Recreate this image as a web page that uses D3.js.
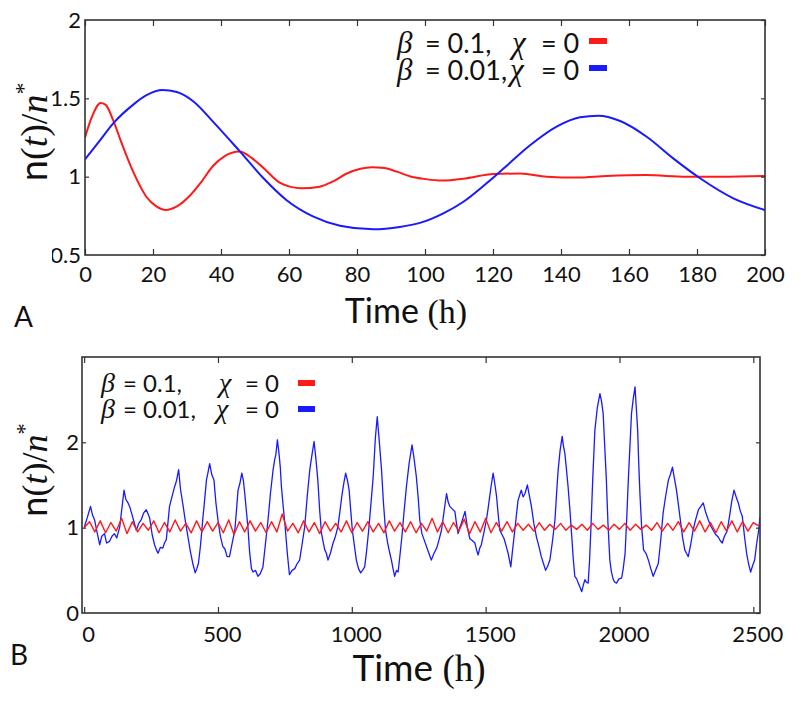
<!DOCTYPE html>
<html><head><meta charset="utf-8">
<script src="https://cdn.jsdelivr.net/npm/d3@7"></script>
<style>body{margin:0;background:#fff}svg{display:block}</style>
</head><body>
<svg id="c" width="800" height="703"></svg>
<script>
// ---------- DATA ----------
// Panel A (deterministic), [time h, n/n*]
const redA = [[0,1.25],[2,1.38],[4.6,1.47],[6,1.46],[8.3,1.36],[10.5,1.23],[13.2,1.08],[15.5,0.97],[18.1,0.87],[21,0.81],[23.8,0.787],[27,0.81],[30.9,0.88],[34,0.96],[37.7,1.07],[41,1.13],[45.4,1.16],[49,1.12],[52.5,1.055],[57.4,0.96],[60.5,0.935],[63.7,0.926],[69,0.936],[73,0.97],[77,1.02],[81,1.05],[84.3,1.06],[88,1.055],[91.7,1.032],[96,1.0],[100,0.985],[104.9,0.975],[112.3,0.99],[120,1.017],[128,1.02],[135.8,1.0],[144.6,0.994],[153.4,1.004],[165,1.01],[177,1.0],[187,1.0],[200,1.005]];
const blueA = [[0,1.11],[4,1.22],[8.3,1.34],[14.2,1.46],[18.1,1.52],[22.8,1.553],[27,1.54],[31.9,1.48],[37.7,1.35],[45.6,1.16],[52.5,0.99],[59.3,0.85],[67.2,0.745],[75,0.687],[84.8,0.664],[92.6,0.679],[98.5,0.705],[105.4,0.766],[111.3,0.84],[118.1,0.958],[123,1.05],[130.9,1.2],[138.7,1.319],[145.6,1.379],[151,1.389],[157.4,1.355],[165.2,1.255],[173,1.117],[180.9,0.99],[190.7,0.862],[200,0.787]];
const ticksAx = [0,20,40,60,80,100,120,140,160,180,200];
const ticksAy = [0.5,1,1.5,2];

// Panel B (stochastic)
const blueB = [[1,1.01],[12,1.12],[24,1.25],[31,1.15],[39,1.09],[48,0.95],[58,0.80],[66,0.90],[76,0.93],[84,0.82],[95,0.84],[104,0.90],[113,0.93],[122,0.88],[133,1.01],[149,1.44],[156,1.33],[164,1.29],[171,1.24],[179,1.15],[187,1.06],[195,0.97],[204,1.05],[213,1.09],[222,1.17],[232,1.21],[239,1.16],[245,1.11],[254,0.92],[263,0.80],[270,0.74],[276,0.70],[285,0.77],[294,0.76],[300,0.82],[307,0.86],[319,1.25],[328,1.36],[338,1.48],[345,1.55],[353,1.68],[360,1.45],[369,1.27],[378,1.08],[388,0.89],[397,0.72],[406,0.58],[415,0.47],[421,0.52],[427,0.58],[435,0.80],[443,1.09],[450,1.32],[457,1.56],[463,1.65],[469,1.75],[477,1.62],[485,1.56],[492,1.30],[500,1.09],[509,0.90],[518,0.78],[526,0.75],[534,0.66],[543,0.66],[552,0.80],[563,0.97],[569,1.20],[575,1.44],[582,1.52],[589,1.64],[595,1.55],[600,1.40],[606,1.20],[612,1.00],[618,0.72],[625,0.52],[631,0.48],[640,0.50],[649,0.43],[658,0.46],[668,0.54],[677,0.80],[687,1.09],[696,1.40],[706,1.68],[712,1.80],[716,1.85],[722,2.03],[728,1.87],[733,1.70],[737,1.48],[744,1.24],[751,1.01],[759,0.70],[767,0.45],[777,0.50],[787,0.52],[796,0.58],[805,0.62],[814,0.80],[824,1.01],[833,1.35],[843,1.68],[851,1.85],[859,2.01],[866,1.80],[873,1.56],[880,1.20],[887,0.93],[893,0.83],[899,0.74],[905,0.70],[911,0.62],[920,0.70],[930,0.82],[939,0.90],[948,1.01],[956,1.20],[964,1.40],[970,1.52],[977,1.64],[984,1.55],[990,1.44],[996,1.20],[1002,0.97],[1010,0.78],[1017,0.62],[1025,0.52],[1033,0.47],[1040,0.50],[1048,0.54],[1055,0.72],[1063,0.97],[1072,1.30],[1080,1.60],[1088,2.05],[1095,2.30],[1103,2.00],[1111,1.68],[1118,1.30],[1126,0.97],[1134,0.82],[1142,0.70],[1148,0.62],[1154,0.52],[1160,0.43],[1167,0.50],[1173,0.48],[1180,0.68],[1187,0.89],[1195,1.18],[1204,1.48],[1214,1.75],[1225,1.97],[1233,1.80],[1241,1.60],[1248,1.35],[1254,1.09],[1262,0.93],[1270,0.86],[1279,0.78],[1288,0.70],[1297,0.62],[1307,0.70],[1317,0.76],[1326,0.86],[1335,0.97],[1345,1.20],[1354,1.40],[1360,1.30],[1366,1.25],[1375,1.22],[1385,1.19],[1391,1.05],[1397,0.93],[1403,1.00],[1409,1.05],[1416,1.12],[1423,1.19],[1432,1.00],[1441,0.87],[1450,0.85],[1460,0.82],[1466,0.74],[1472,0.68],[1478,0.76],[1484,0.80],[1494,0.95],[1503,1.09],[1509,1.22],[1515,1.36],[1521,1.50],[1528,1.64],[1535,1.50],[1541,1.36],[1547,1.15],[1553,0.97],[1561,0.92],[1569,0.87],[1577,0.78],[1584,0.70],[1589,0.62],[1594,0.54],[1601,0.75],[1609,0.97],[1615,1.15],[1621,1.32],[1627,1.38],[1633,1.44],[1640,1.36],[1647,1.40],[1656,1.50],[1663,1.38],[1671,1.25],[1680,1.05],[1690,0.89],[1699,0.78],[1708,0.66],[1716,0.58],[1724,0.50],[1732,0.55],[1740,0.62],[1750,0.85],[1759,1.09],[1765,1.40],[1771,1.68],[1778,1.90],[1786,2.07],[1791,1.95],[1796,1.87],[1802,1.68],[1808,1.48],[1815,1.20],[1821,0.93],[1827,0.65],[1833,0.43],[1840,0.40],[1846,0.35],[1853,0.30],[1859,0.25],[1865,0.33],[1871,0.39],[1877,0.36],[1883,0.35],[1888,0.60],[1893,0.97],[1900,1.56],[1908,2.14],[1917,2.40],[1927,2.57],[1933,2.48],[1939,2.34],[1945,1.95],[1951,1.56],[1957,1.05],[1964,0.62],[1970,0.48],[1977,0.39],[1983,0.36],[1989,0.35],[1998,0.40],[2008,0.41],[2014,0.52],[2021,0.70],[2027,1.10],[2033,1.56],[2039,1.95],[2045,2.34],[2051,2.50],[2058,2.65],[2063,2.40],[2068,2.14],[2072,1.75],[2077,1.36],[2083,1.00],[2090,0.74],[2099,0.70],[2108,0.62],[2117,0.52],[2126,0.43],[2135,0.50],[2145,0.58],[2154,0.85],[2163,1.17],[2173,1.38],[2183,1.56],[2190,1.62],[2198,1.71],[2205,1.58],[2213,1.44],[2221,1.25],[2229,1.05],[2236,0.88],[2244,0.74],[2250,0.70],[2257,0.66],[2266,0.80],[2275,0.97],[2285,1.10],[2295,1.21],[2304,1.25],[2313,1.29],[2322,1.18],[2332,1.09],[2341,1.02],[2350,0.97],[2359,0.92],[2369,0.89],[2376,0.85],[2384,0.82],[2392,0.90],[2401,0.95],[2407,1.05],[2413,1.17],[2420,1.32],[2428,1.44],[2436,1.36],[2444,1.29],[2451,1.20],[2459,1.13],[2467,0.90],[2475,0.70],[2482,0.58],[2490,0.48],[2497,0.55],[2505,0.62],[2512,0.80],[2520,0.97],[2525,1.13]];
const redBStep = 20; // sampling interval (h) of the red series below
const redB = [1.00,1.07,0.95,1.08,0.94,1.06,0.96,1.11,0.93,1.07,0.95,1.05,0.97,1.08,0.94,1.06,0.95,1.09,0.96,1.05,
 0.94,1.08,0.95,1.07,0.96,1.06,0.94,1.09,0.92,1.07,0.95,1.08,0.96,1.06,0.94,1.07,0.95,1.16,0.96,1.05,
 0.94,1.08,0.95,1.06,0.93,1.07,0.96,1.05,0.95,1.08,0.94,1.06,0.96,1.07,0.95,1.05,0.94,1.08,0.96,1.06,
 0.95,1.07,0.94,1.05,0.96,1.11,0.95,1.07,0.94,1.06,0.96,1.10,0.93,1.07,0.95,1.11,0.94,1.06,0.96,1.07,
 0.95,1.05,0.97,1.04,0.96,1.06,0.97,1.04,0.98,1.05,0.97,1.03,0.98,1.04,0.97,1.05,0.98,1.03,0.97,1.04,
 0.98,1.05,0.97,1.04,0.98,1.03,0.97,1.06,0.96,1.05,0.97,1.07,0.95,1.06,0.96,1.08,0.95,1.06,0.94,1.07,
 0.96,1.08,0.95,1.07,0.96,1.06,1.02];
const ticksBx = [0,500,1000,1500,2000,2500];
const ticksBy = [0,1,2];

// ---------- DRAW ----------
const svg = d3.select('#c');
const SANS = 'Lato, "Open Sans", sans-serif';
const SERIF = '"Liberation Serif", "DejaVu Serif", serif';
const AX = '#333';
const RED = '#ff1a1a', BLUE = '#1a1aff';

const defs = svg.append('defs');
// clip for the partially hidden "0.5" tick label (local coords of the tick)
defs.append('clipPath').attr('id','clipA05')
  .append('rect').attr('x',-33).attr('y',-40).attr('width',60).attr('height',80);

function panel(cfg){
  const g = svg.append('g');
  const x = d3.scaleLinear().domain(cfg.xd).range(cfg.xr);
  const y = d3.scaleLinear().domain(cfg.yd).range(cfg.yr);
  const [x0,x1] = cfg.xr, [y0,y1] = [cfg.yr[1], cfg.yr[0]];
  const clipId = 'clip'+cfg.id;
  defs.append('clipPath').attr('id',clipId)
    .append('rect').attr('x',x0).attr('y',y0).attr('width',x1-x0).attr('height',y1-y0);
  const lines = g.append('g').attr('clip-path',`url(#${clipId})`);
  cfg.series.forEach(s=>{
    const line = d3.line().x(d=>x(d[0])).y(d=>y(d[1])).curve(s.curve||d3.curveLinear);
    lines.append('path').datum(s.data).attr('d',line)
      .attr('fill','none').attr('stroke',s.color).attr('stroke-width',s.w)
      .attr('stroke-linejoin','round');
  });
  const fmt = cfg.fmt || d3.format('~g');
  const bottom = g.append('g').attr('transform',`translate(0,${y1})`)
    .call(d3.axisBottom(x).tickValues(cfg.xt).tickSize(-6).tickPadding(cfg.xpad).tickFormat(d3.format('d')));
  const top = g.append('g').attr('transform',`translate(0,${y0})`)
    .call(d3.axisTop(x).tickValues(cfg.xt).tickSize(-6).tickFormat(''));
  const left = g.append('g').attr('transform',`translate(${x0},0)`)
    .call(d3.axisLeft(y).tickValues(cfg.yt).tickSize(-4).tickPadding(cfg.ypad).tickFormat(fmt));
  const right = g.append('g').attr('transform',`translate(${x1},0)`)
    .call(d3.axisRight(y).tickValues(cfg.yt).tickSize(-4).tickFormat(''));
  [bottom,top,left,right].forEach(a=>{
    a.select('.domain').remove();
    a.selectAll('line').attr('stroke',AX).attr('stroke-width',1.2);
    a.selectAll('text').attr('font-family',SANS).attr('font-size',22).attr('fill','#111');
  });
  g.append('rect').attr('x',x0).attr('y',y0).attr('width',x1-x0).attr('height',y1-y0)
    .attr('fill','none').attr('stroke',AX).attr('stroke-width',1.6);
  return {g,x,y,left,bottom};
}

// Panel A
const A = panel({id:'A', xd:[0,200], xr:[85,765], yd:[0.5,2], yr:[255,20],
  xt:ticksAx, yt:ticksAy, xpad:11, ypad:4,
  series:[{data:redA,color:RED,w:2,curve:d3.curveMonotoneX},{data:blueA,color:BLUE,w:2,curve:d3.curveMonotoneX}]});
A.left.selectAll('.tick').filter(d=>d===0.5).select('text').attr('clip-path','url(#clipA05)');
A.left.selectAll('.tick').filter(d=>d===0.5||d===2).select('line').remove();

// Panel B
const redBData = redB.map((v,i)=>[i*redBStep, v]);
const B = panel({id:'B', xd:[-8,2525], xr:[82,760], yd:[0,3], yr:[613,357],
  xt:ticksBx, yt:ticksBy, xpad:13, ypad:3,
  series:[{data:blueB,color:BLUE,w:1.3},{data:redBData,color:RED,w:1.4}]});
B.bottom.selectAll('.tick text').attr('dx',4);
B.left.selectAll('.tick').filter(d=>d===0).select('line').remove();

// Axis titles
function ylabel(cx, cy, fs){
  const t = svg.append('text').attr('transform',`translate(${cx},${cy}) rotate(-90)`)
    .attr('text-anchor','middle').attr('font-size',fs).attr('fill','#111');
  t.append('tspan').attr('font-family',SANS).text('n');
  t.append('tspan').attr('font-family',SERIF).text('(');
  t.append('tspan').attr('font-family',SERIF).attr('font-style','italic').text('t');
  t.append('tspan').attr('font-family',SERIF).text(')/');
  t.append('tspan').attr('font-family',SERIF).attr('font-style','italic').text('n');
  t.append('tspan').attr('font-family',SERIF).attr('font-size',fs*0.62).attr('dy',-fs*0.42).text('*');
}
ylabel(47,132,38);
ylabel(47,470,36);

function xlabel(cx, by, fs){
  const t = svg.append('text').attr('x',cx).attr('y',by).attr('text-anchor','middle')
    .attr('font-size',fs).attr('fill','#111');
  t.append('tspan').attr('font-family',SANS).text('Time ');
  t.append('tspan').attr('font-family',SERIF).text('(h)');
}
xlabel(406,323,34);
xlabel(419,681,37);

svg.append('text').attr('x',14).attr('y',327).attr('font-family',SANS).attr('font-size',28).attr('fill','#111').text('A');
svg.append('text').attr('x',10).attr('y',665).attr('font-family',SANS).attr('font-size',28).attr('fill','#111').text('B');

// Legends (each piece a separate text element)
const legendLabels = [['0.1,', RED], ['0.01,', BLUE]];
function legend(pos){
  legendLabels.forEach(([b,col],i)=>{
    const by = pos.y0 + i*pos.dy;
    const piece = (x, txt, fam, it, fs) => svg.append('text').attr('x',x).attr('y',by)
      .attr('font-family',fam).attr('font-style',it?'italic':'normal').attr('font-size',fs)
      .attr('fill','#111').text(txt);
    piece(pos.xb, 'β', SERIF, true, pos.gs);
    piece(pos.xe, '= '+b, SANS, false, pos.fs);
    piece(pos.xc[i], 'χ', SERIF, true, pos.gs);
    piece(pos.xz, '= 0', SANS, false, pos.fs);
    svg.append('rect').attr('x',pos.sx).attr('y',by-pos.sOff).attr('width',pos.sw).attr('height',pos.sh).attr('fill',col);
  });
}
legend({y0:53,dy:27,fs:27,gs:31,xb:397,xe:425,xc:[512,510],xz:541,sx:589,sw:18,sh:6,sOff:15});
legend({y0:392,dy:26,fs:24,gs:28,xb:101,xe:123,xc:[219,216],xz:245,sx:298,sw:17,sh:6,sOff:12});
</script>
</body></html>
